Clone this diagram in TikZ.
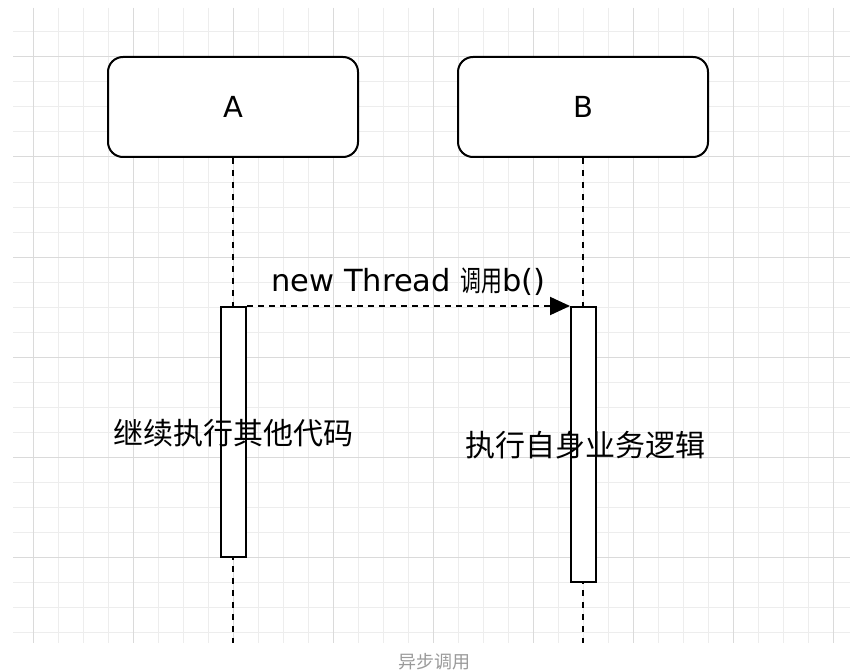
\documentclass[tikz,border=0pt]{standalone}
\usepackage{fontspec}
\setmainfont{DejaVu Sans}
\newfontfamily\cjk{Noto Sans CJK SC}
\newfontfamily\cjknarrow[FakeStretch=0.72]{Noto Sans CJK SC}
\usetikzlibrary{arrows.meta}
\definecolor{gridminor}{HTML}{EDEDED}
\definecolor{gridmajor}{HTML}{DADADA}
\definecolor{captiongray}{HTML}{9A9A9A}
\tikzset{
  actor/.style={draw, line width=2pt, rounded corners=15pt, fill=white,
    minimum width=250pt, minimum height=100pt, inner sep=0pt,
    font=\fontsize{29}{34}\selectfont},
  activation/.style={draw, line width=2pt, fill=white, minimum width=25pt, inner sep=0pt},
  lifeline/.style={line width=2pt, dash pattern=on 6pt off 6pt},
  msg/.style={line width=2pt, dash pattern=on 6pt off 5pt, -{Triangle[length=20pt,width=18pt]}},
  msglabel/.style={font=\fontsize{30.5}{34}\selectfont, inner sep=0pt},
  bodytext/.style={font=\cjk\fontsize{30}{36}\selectfont, inner sep=0pt},
  captiontext/.style={font=\cjk\fontsize{18}{22}\selectfont, text=captiongray, inner sep=0pt},
  minorline/.style={draw=gridminor, line width=1pt},
  majorline/.style={draw=gridmajor, line width=1pt}
}
\begin{document}
\begin{tikzpicture}[x=1pt,y=-1pt]
\useasboundingbox (0,0) rectangle (850,671);
\fill[white] (0,0) rectangle (850,671);
% grid
\begin{scope}
\clip (13,8) rectangle (850,643);
\foreach \x in {33,58,...,850} \draw[minorline] (\x,8) -- (\x,643);
\foreach \y in {32,57,...,643} \draw[minorline] (13,\y) -- (850,\y);
\foreach \x in {33,133,...,850} \draw[majorline] (\x,8) -- (\x,643);
\foreach \y in {57,157,...,643} \draw[majorline] (13,\y) -- (850,\y);
\end{scope}
% actors
\node[actor] (A) at (233,107) {A};
\node[actor] (B) at (583,107) {B};
\coordinate (endA) at (233,643);
\coordinate (endB) at (583,643);
% lifelines
\draw[lifeline] (A.south) -- (endA);
\draw[lifeline] (B.south) -- (endB);
% activations
\node[activation, minimum height=250pt] (actA) at (233.5,432) {};
\node[activation, minimum height=275pt] (actB) at (583.5,444.5) {};
% message
\draw[msg] (actA.north east) -- node[msglabel, midway, anchor=base, yshift=15pt] (lbl) {new Thread {\cjknarrow\fontsize{29}{34}\selectfont 调用}b()} (actB.north west);
% texts
\node[bodytext] (tA) at (233.5,433) {继续执行其他代码};
\node[bodytext] (tB) at (585,445) {执行自身业务逻辑};
\node[captiontext] (cap) at (434,662) {异步调用};
\end{tikzpicture}
\end{document}
